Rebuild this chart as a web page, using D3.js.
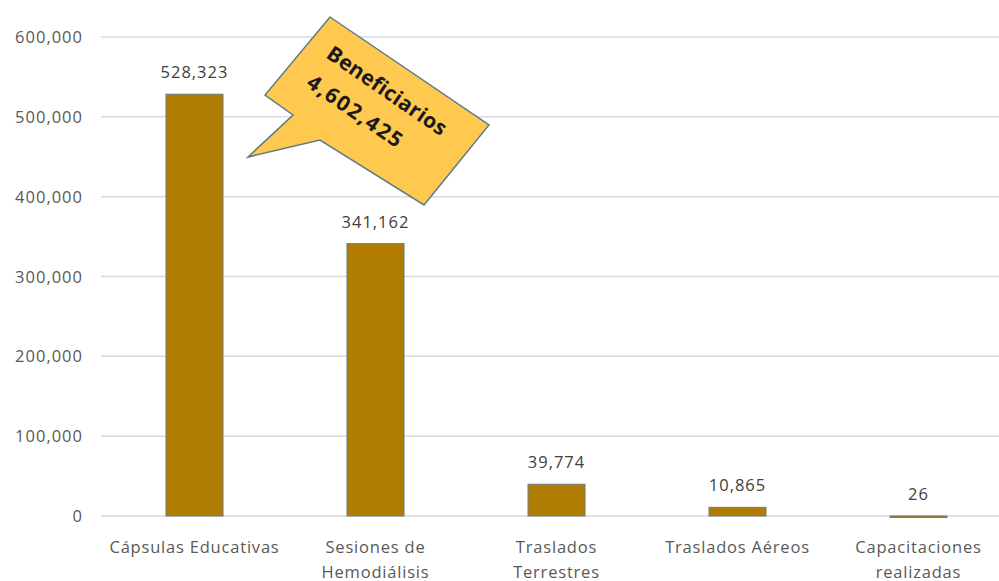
<!DOCTYPE html>
<html lang="es">
<head>
<meta charset="utf-8">
<style>
  body { margin: 0; background: #fff; }
  svg text { font-family: "Open Sans", "Noto Sans", sans-serif; }
</style>
</head>
<body>
<script src="https://d3js.org/d3.v7.min.js"></script>
<script>
  var width = 999, height = 581;

  // datos
  var categorias = [
    ['Cápsulas Educativas'],
    ['Sesiones de', 'Hemodiálisis'],
    ['Traslados', 'Terrestres'],
    ['Traslados Aéreos'],
    ['Capacitaciones', 'realizadas']
  ];
  var valores = [528323, 341162, 39774, 10865, 26];
  var yTicks = [0, 100000, 200000, 300000, 400000, 500000, 600000];
  var calloutLineas = ['Beneficiarios', '4,602,425'];

  var svg = d3.select('body').append('svg')
    .attr('width', width).attr('height', height);

  var x = d3.scaleBand()
    .domain(d3.range(valores.length))
    .range([104, 1009])
    .paddingInner(0.685)
    .paddingOuter(0.3425);

  var y = d3.scaleLinear().domain([0, 600000]).range([516, 37]);
  var fmt = d3.format(',');

  // grid
  svg.selectAll('line.grid')
    .data(yTicks)
    .join('line')
    .attr('class', 'grid')
    .attr('x1', 101).attr('x2', width)
    .attr('y1', function (d) { return y(d) })
    .attr('y2', function (d) { return y(d) })
    .attr('stroke', '#dadada')
    .attr('stroke-width', 1.5);

  // y labels
  svg.selectAll('text.ytick')
    .data(yTicks)
    .join('text')
    .attr('class', 'ytick')
    .attr('x', 83)
    .attr('y', function (d) { return y(d) + 6 })
    .attr('text-anchor', 'end')
    .attr('font-size', 16.5)
    .attr('letter-spacing', 1)
    .attr('fill', '#595959')
    .text(function (d) { return fmt(d) });

  // bars
  svg.selectAll('rect.bar')
    .data(valores)
    .join('rect')
    .attr('class', 'bar')
    .attr('x', function (d, i) { return x(i) })
    .attr('width', x.bandwidth())
    .attr('y', function (d) { return y(d) })
    .attr('height', function (d) { return Math.max(1.5, y(0) - y(d)) })
    .attr('fill', '#b07d02')
    .attr('stroke', '#6b7a80')
    .attr('stroke-width', 1);

  // value labels
  svg.selectAll('text.val')
    .data(valores)
    .join('text')
    .attr('class', 'val')
    .attr('x', function (d, i) { return x(i) + x.bandwidth() / 2 })
    .attr('y', function (d) { return y(d) - 16 })
    .attr('text-anchor', 'middle')
    .attr('font-size', 16.5)
    .attr('letter-spacing', 1)
    .attr('fill', '#404040')
    .text(function (d) { return fmt(d) });

  // category labels (second line is cut by the bottom edge, as in the original)
  var cat = svg.selectAll('text.cat')
    .data(categorias)
    .join('text')
    .attr('class', 'cat')
    .attr('text-anchor', 'middle')
    .attr('font-size', 16.5)
    .attr('letter-spacing', 0.8)
    .attr('fill', '#595959')
    .attr('x', function (d, i) { return x(i) + x.bandwidth() / 2 })
    .attr('y', 553);
  cat.selectAll('tspan')
    .data(function (d) { return d })
    .join('tspan')
    .attr('x', function () { return this.parentNode.getAttribute('x') })
    .attr('dy', function (d, i) { return i ? 25 : 0 })
    .text(function (d) { return d });

  // callout
  var pts = [[330, 17], [489, 125], [424, 205], [320, 140], [248, 157], [293, 115], [265, 95]];
  svg.append('polygon')
    .attr('points', pts.map(function (p) { return p.join(',') }).join(' '))
    .attr('fill', '#ffc94f')
    .attr('stroke', '#5b7b8b')
    .attr('stroke-width', 1.5);

  var ct = svg.append('text')
    .attr('transform', 'translate(325,57) rotate(34.5)')
    .attr('font-size', 21)
    .attr('font-weight', 'bold')
    .attr('fill', '#1a1a1a');
  ct.selectAll('tspan')
    .data(calloutLineas)
    .join('tspan')
    .attr('x', 0)
    .attr('y', function (d, i) { return i * 35 })
    .attr('letter-spacing', function (d, i) { return i ? 1.8 : 0.3 })
    .text(function (d) { return d });
</script>
</body>
</html>
